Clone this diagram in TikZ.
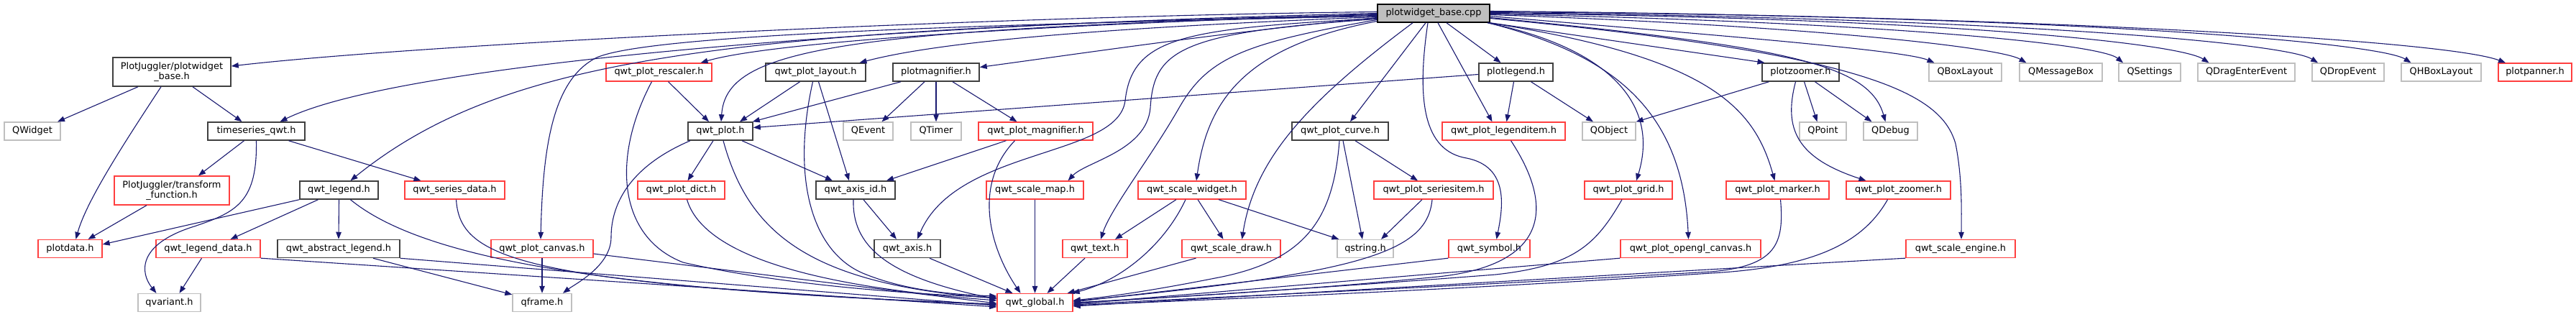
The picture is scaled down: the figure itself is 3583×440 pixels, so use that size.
\documentclass[tikz,border=0pt]{standalone}
\usepackage{fontspec}
\usetikzlibrary{arrows.meta}
\newfontfamily\dvs{DejaVu Sans}
\newcommand\dgfont{\dvs\fontsize{12.9}{14}\selectfont}
\definecolor{edgec}{HTML}{191970}
\definecolor{redc}{HTML}{FF3F3F}
\definecolor{grayc}{HTML}{BFBFBF}
\definecolor{darkc}{HTML}{404040}
\tikzset{
  boxbase/.style={rectangle, inner sep=0pt, font=\dgfont},
  oneln/.style={minimum height=25pt, text height=9.5pt, text depth=2.6pt},
  twoln/.style={minimum height=40pt, align=center},
  blk/.style={boxbase, draw=darkc, line width=1.5pt},
  rd/.style={boxbase, draw=redc, line width=1.3pt},
  gr/.style={boxbase, draw=grayc, line width=1.3pt},
  nb/.style={blk, oneln},
  nr/.style={rd, oneln},
  ng/.style={gr, oneln},
  edg/.style={draw=edgec, line width=1.1pt, -{Triangle[length=10pt,width=7.5pt]}}
}
\begin{document}
\begin{tikzpicture}[x=1pt,y=-1pt]
\useasboundingbox (0,0) rectangle (3583,440);
% ---- nodes ----
\node[nb, fill=grayc, draw=black, minimum width=156pt] (root) at (1994,18.5) {plotwidget\_base.cpp};
\node[blk, twoln, minimum width=164pt] (pwb) at (239,100) {PlotJuggler/plotwidget\\\_base.h};
\node[ng, minimum width=78pt] (qwidget) at (45,182.5) {QWidget};
\node[nb, minimum width=135pt] (tsq) at (356.5,182.5) {timeseries\_qwt.h};
\node[rd, twoln, minimum width=160pt] (tf) at (239,265) {PlotJuggler/transform\\\_function.h};
\node[nb, minimum width=109pt] (qlegend) at (471.5,264.5) {qwt\_legend.h};
\node[nr, minimum width=139pt] (qsd) at (632.5,264.5) {qwt\_series\_data.h};
\node[nr, minimum width=89pt] (plotdata) at (97.5,346) {plotdata.h};
\node[nr, minimum width=145pt] (qld) at (289.5,346) {qwt\_legend\_data.h};
\node[nb, minimum width=170pt] (qal) at (471,346) {qwt\_abstract\_legend.h};
\node[nr, minimum width=142pt] (qpc) at (754,346) {qwt\_plot\_canvas.h};
\node[ng, minimum width=87pt] (qvariant) at (235.5,421) {qvariant.h};
\node[ng, minimum width=82pt] (qframe) at (754,421) {qframe.h};
\node[nr, minimum width=147pt] (qpr) at (916.5,100.5) {qwt\_plot\_rescaler.h};
\node[nb, minimum width=139pt] (qpl) at (1134.5,100.5) {qwt\_plot\_layout.h};
\node[nb, minimum width=120pt] (pmag) at (1302,100.5) {plotmagnifier.h};
\node[nb, minimum width=90pt] (qplot) at (1002,182.5) {qwt\_plot.h};
\node[ng, minimum width=69pt] (qevent) at (1207.5,182.5) {QEvent};
\node[ng, minimum width=70pt] (qtimer) at (1302,182.5) {QTimer};
\node[nr, minimum width=159pt] (qpm) at (1440.5,182.5) {qwt\_plot\_magnifier.h};
\node[nr, minimum width=121pt] (qpd) at (947.5,264.5) {qwt\_plot\_dict.h};
\node[nb, minimum width=110pt] (qaid) at (1190,264.5) {qwt\_axis\_id.h};
\node[nr, minimum width=135pt] (qsm) at (1439.5,264.5) {qwt\_scale\_map.h};
\node[nr, minimum width=150pt] (qsw) at (1658,264.5) {qwt\_scale\_widget.h};
\node[nb, minimum width=92pt] (qaxis) at (1262,346) {qwt\_axis.h};
\node[nr, minimum width=90pt] (qtext) at (1523,346) {qwt\_text.h};
\node[nr, minimum width=137pt] (qsdraw) at (1712.5,346) {qwt\_scale\_draw.h};
\node[nr, minimum width=105pt] (qglobal) at (1439.5,421) {qwt\_global.h};
\node[nb, minimum width=103pt] (plegend) at (2108.5,100.5) {plotlegend.h};
\node[nb, minimum width=107pt] (pzoom) at (2504.5,100.5) {plotzoomer.h};
\node[nb, minimum width=134pt] (qpcurve) at (1864,182.5) {qwt\_plot\_curve.h};
\node[nr, minimum width=171pt] (qpli) at (2091.5,182.5) {qwt\_plot\_legenditem.h};
\node[ng, minimum width=74pt] (qobject) at (2238,182.5) {QObject};
\node[ng, minimum width=65pt] (qpoint) at (2535.5,182.5) {QPoint};
\node[ng, minimum width=75pt] (qdebug) at (2629.5,182.5) {QDebug};
\node[nr, minimum width=166pt] (qpsi) at (1994,264.5) {qwt\_plot\_seriesitem.h};
\node[nr, minimum width=122pt] (qpg) at (2265,264.5) {qwt\_plot\_grid.h};
\node[nr, minimum width=143pt] (qpmk) at (2472.5,264.5) {qwt\_plot\_marker.h};
\node[nr, minimum width=145pt] (qpz) at (2640.5,264.5) {qwt\_plot\_zoomer.h};
\node[ng, minimum width=78pt] (qstring) at (1899,346) {qstring.h};
\node[nr, minimum width=113pt] (qsym) at (2071.5,346) {qwt\_symbol.h};
\node[nr, minimum width=195pt] (qpoc) at (2351.5,346) {qwt\_plot\_opengl\_canvas.h};
\node[nr, minimum width=152pt] (qse) at (2727,346) {qwt\_scale\_engine.h};
\node[ng, minimum width=101pt] (qbox) at (2733.5,100.5) {QBoxLayout};
\node[ng, minimum width=115pt] (qmsg) at (2866.5,100.5) {QMessageBox};
\node[ng, minimum width=86pt] (qset) at (2990,100.5) {QSettings};
\node[ng, minimum width=135pt] (qdrag) at (3124.5,100.5) {QDragEnterEvent};
\node[ng, minimum width=100pt] (qdrop) at (3266,100.5) {QDropEvent};
\node[ng, minimum width=111pt] (qhbox) at (3395.5,100.5) {QHBoxLayout};
\node[nr, minimum width=102pt] (ppan) at (3526,100.5) {plotpanner.h};
% ---- edges from root (left) ----
\draw[edg] ([yshift=2pt]root.west) .. controls (1400,22) and (600,60) .. ([yshift=8pt]pwb.east);
\draw[edg] ([yshift=0pt]root.west) .. controls (1200,35) and (550,90) .. ([xshift=33pt]tsq.north);
\draw[edg] ([yshift=-2pt]root.west) .. controls (1000,40) and (700,80) .. ([xshift=16pt]qlegend.north);
\draw[edg] ([yshift=-4pt]root.west) .. controls (1300,35) and (900,50) .. (830,80) .. controls (770,110) and (755,200) .. ([xshift=-2pt]qpc.north);
\draw[edg] ([yshift=-1pt]root.west) .. controls (1300,40) and (1050,65) .. ([xshift=58pt]qpr.north);
\draw[edg] ([yshift=-3pt]root.west) .. controls (1150,40) and (1010,70) .. ([xshift=1pt]qplot.north);
\draw[edg] ([yshift=-5pt]root.west) .. controls (1500,40) and (1300,60) .. ([xshift=61pt]qpl.north);
\draw[edg] ([yshift=-6pt]root.west) .. controls (1700,45) and (1500,75) .. ([yshift=7pt]pmag.east);
\draw[edg] ([yshift=-7pt]root.west) .. controls (1650,40) and (1575,50) .. (1565,140) .. controls (1555,220) and (1330,205) .. ([xshift=14pt]qaxis.north);
\draw[edg] ([yshift=-8pt]root.west) .. controls (1640,45) and (1605,70) .. (1600,150) .. controls (1595,210) and (1510,225) .. ([xshift=46pt]qsm.north);
\draw[edg] ([yshift=-9pt]root.west) .. controls (1730,60) and (1680,80) .. (1640,150) .. controls (1600,220) and (1545,290) .. ([xshift=8pt]qtext.north);
\draw[edg] ([yshift=-11pt]root.west) .. controls (1730,65) and (1680,140) .. ([xshift=6pt]qsw.north);
\draw[edg] ([xshift=-29pt]root.south) .. controls (1820,140) and (1745,220) .. ([xshift=15pt]qsdraw.north);
% ---- edges from root (bottom) ----
\draw[edg] ([xshift=-11pt]root.south) -- ([xshift=14pt]qpcurve.north);
\draw[edg] ([xshift=-8pt]root.south) .. controls (1970,140) and (1980,210) .. (2040,220) .. controls (2100,232) and (2090,290) .. ([xshift=10pt]qsym.north);
\draw[edg] ([xshift=6pt]root.south) -- ([xshift=-16pt]qpli.north);
\draw[edg] ([xshift=18pt]root.south) -- ([xshift=-21pt]plegend.north);
\draw[edg] ([xshift=-4pt]root.south east) .. controls (2230,65) and (2310,140) .. ([xshift=11pt]qpg.north);
\draw[edg] ([xshift=-3pt]root.south east) .. controls (2240,75) and (2340,150) .. ([xshift=-3pt]qpoc.north);
\draw[edg] ([xshift=-2pt]root.south east) .. controls (2380,80) and (2440,150) .. ([xshift=-4pt]qpmk.north);
\draw[edg] (root.south east) -- ([xshift=-50pt]pzoom.north);
% ---- edges from root (right) ----
\draw[edg] ([yshift=-6pt]root.east) .. controls (2490,65) and (2600,90) .. ([xshift=-7pt]qdebug.north);
\draw[edg] ([yshift=-7pt]root.east) .. controls (2600,75) and (2700,130) .. (2720,200) .. controls (2730,250) and (2728,300) .. ([xshift=1pt]qse.north);
\draw[edg] ([yshift=-4pt]root.east) .. controls (2400,50) and (2650,70) .. ([xshift=-43pt]qbox.north);
\draw[edg] ([yshift=-2pt]root.east) .. controls (2500,35) and (2780,65) .. ([xshift=-48pt]qmsg.north);
\draw[edg] ([yshift=-1pt]root.east) .. controls (2600,30) and (2920,60) .. ([xshift=-37pt]qset.north);
\draw[edg] ([yshift=0pt]root.east) .. controls (2700,25) and (3030,60) .. ([xshift=-52pt]qdrag.north);
\draw[edg] ([yshift=1pt]root.east) .. controls (2800,25) and (3180,60) .. ([xshift=-42pt]qdrop.north);
\draw[edg] ([yshift=2pt]root.east) .. controls (2900,22) and (3310,60) .. ([xshift=-42pt]qhbox.north);
\draw[edg] ([yshift=3pt]root.east) .. controls (2800,22) and (3400,55) .. ([xshift=-41pt]ppan.north);
% ---- left part ----
\draw[edg] ([xshift=-47pt]pwb.south) -- ([xshift=35pt]qwidget.north);
\draw[edg] ([xshift=-15pt]pwb.south) .. controls (172,200) and (120,280) .. ([xshift=8pt]plotdata.north);
\draw[edg] ([xshift=29pt]pwb.south) -- ([xshift=-20pt]tsq.north);
\draw[edg] ([xshift=-17pt]tsq.south) -- ([xshift=37pt]tf.north);
\draw[edg] ([xshift=45pt]tsq.south) -- ([xshift=-47pt]qsd.north);
\draw[edg] (tsq.south) .. controls (358,280) and (330,295) .. (270,315) .. controls (190,340) and (195,380) .. ([xshift=-18pt]qvariant.north);
\draw[edg] ([xshift=-35pt]tf.south) -- ([xshift=25pt]plotdata.north);
\draw[edg] (qlegend.south west) -- ([yshift=6pt]plotdata.east);
\draw[edg] ([xshift=-29pt]qlegend.south) -- ([xshift=31pt]qld.north);
\draw[edg] (qlegend.south) -- (qal.north);
\draw[edg] ([xshift=16pt]qlegend.south) .. controls (600,370) and (900,405) .. ([yshift=-2pt]qglobal.west);
\draw[edg] ([xshift=-9pt]qld.south) -- ([xshift=14pt]qvariant.north);
\draw[edg] (qld.south east) -- ([yshift=-6pt]qglobal.west);
\draw[edg] ([xshift=48pt]qal.south) -- ([yshift=-2pt]qframe.north west);
\draw[edg] (qal.south east) -- ([yshift=-4pt]qglobal.west);
\draw[edg] ([xshift=2pt]qsd.south) .. controls (640,360) and (720,395) .. ([yshift=-3pt]qglobal.west);
\draw[edg] (qpc.south) -- (qframe.north);
\draw[edg] ([yshift=-7pt]qpc.east) -- ([yshift=-1pt]qglobal.west);
% ---- qwt_plot area ----
\draw[edg] ([xshift=-42pt]qplot.south) .. controls (880,230) and (850,280) .. (850,330) .. controls (850,370) and (800,395) .. ([xshift=29pt]qframe.north);
\draw[edg] ([xshift=-10pt]qplot.south) -- ([xshift=9pt]qpd.north);
\draw[edg] ([xshift=30pt]qplot.south) -- ([xshift=-32pt]qaid.north);
\draw[edg] ([xshift=4pt]qplot.south) .. controls (1040,320) and (1120,395) .. ([yshift=6pt]qglobal.west);
\draw[edg] ([xshift=8pt]qpd.south) .. controls (980,360) and (1150,400) .. ([yshift=3pt]qglobal.west);
\draw[edg] ([xshift=-22pt]qpl.south) -- ([xshift=27pt]qplot.north);
\draw[edg] ([xshift=4pt]qpl.south) -- ([xshift=-9pt]qaid.north);
\draw[edg] ([xshift=-4pt]qpl.south) .. controls (1100,250) and (1130,350) .. (1200,380) .. controls (1260,405) and (1330,410) .. ([yshift=9pt]qglobal.west);
\draw[edg] ([xshift=-49pt]pmag.south) -- ([xshift=-1pt]qplot.north east);
\draw[edg] ([xshift=-16pt]pmag.south) -- ([xshift=19pt]qevent.north);
\draw[edg] (pmag.south) -- (qtimer.north);
\draw[edg] ([xshift=23pt]pmag.south) -- ([xshift=-26pt]qpm.north);
\draw[edg] ([xshift=-41pt]qpm.south) -- ([xshift=43pt]qaid.north);
\draw[edg] ([xshift=-29pt]qpm.south) .. controls (1350,260) and (1380,350) .. ([xshift=-20pt]qglobal.north);
\draw[edg] ([xshift=13pt]qpr.south) -- ([xshift=-16pt]qplot.north);
\draw[edg] ([xshift=-10pt]qpr.south) .. controls (850,220) and (860,330) .. (950,365) .. controls (1100,400) and (1300,410) .. ([yshift=7pt]qglobal.west);
\draw[edg] ([xshift=11pt]qaid.south) -- ([xshift=-15pt]qaxis.north);
\draw[edg] ([xshift=-3pt]qaid.south) .. controls (1185,340) and (1230,385) .. ([yshift=5pt]qglobal.west);
\draw[edg] ([xshift=31pt]qaxis.south) -- ([xshift=-31pt]qglobal.north);
\draw[edg] (qsm.south) -- (qglobal.north);
% ---- scale widget area ----
\draw[edg] ([xshift=-22pt]qsw.south) -- ([xshift=28pt]qtext.north);
\draw[edg] ([xshift=-9pt]qsw.south) .. controls (1620,340) and (1560,390) .. ([xshift=-1pt]qglobal.north east);
\draw[edg] ([xshift=8pt]qsw.south) -- ([xshift=-11pt]qsdraw.north);
\draw[edg] ([xshift=37pt]qsw.south) -- ([xshift=3pt]qstring.north west);
\draw[edg] ([xshift=-14pt]qtext.south) -- ([xshift=17pt]qglobal.north);
\draw[edg] ([xshift=-49pt]qsdraw.south) -- ([xshift=-8pt]qglobal.north east);
% ---- plot curve area ----
\draw[edg] ([xshift=21pt]qpcurve.south) -- ([xshift=-22pt]qpsi.north);
\draw[edg] ([xshift=4pt]qpcurve.south) -- ([xshift=-4pt]qstring.north);
\draw[edg] ([xshift=-1pt]qpcurve.south) .. controls (1855,300) and (1820,360) .. (1700,385) .. controls (1600,405) and (1540,413) .. ([yshift=3pt]qglobal.east);
\draw[edg] ([xshift=-16pt]qpsi.south) -- ([xshift=22pt]qstring.north);
\draw[edg] ([xshift=-2pt]qpsi.south) .. controls (1985,350) and (1900,380) .. ([yshift=2pt]qglobal.east);
\draw[edg] (qsym.south west) -- ([yshift=1pt]qglobal.east);
\draw[edg] ([xshift=10pt]qpli.south) .. controls (2170,300) and (2140,370) .. (2000,385) .. controls (1800,405) and (1600,415) .. ([yshift=0pt]qglobal.east);
% ---- plotlegend / plotzoomer ----
\draw[edg] ([xshift=-3pt]plegend.south) -- ([xshift=4pt]qpli.north);
\draw[edg] ([xshift=21pt]plegend.south) -- ([xshift=-22pt]qobject.north);
\draw[edg] ([yshift=-3pt]plegend.west) -- ([yshift=5pt]qplot.east);
\draw[edg] ([xshift=-44pt]pzoom.south) -- (qobject.north east);
\draw[edg] ([xshift=5pt]pzoom.south) -- ([xshift=-8pt]qpoint.north);
\draw[edg] ([xshift=20pt]pzoom.south) -- ([xshift=-26pt]qdebug.north);
\draw[edg] ([xshift=-7pt]pzoom.south) .. controls (2480,180) and (2500,220) .. ([xshift=-45pt]qpz.north);
% ---- right part to qwt_global ----
\draw[edg] ([xshift=-9pt]qpg.south) .. controls (2220,340) and (2190,370) .. (2080,382) .. controls (1850,400) and (1600,415) .. ([yshift=-1pt]qglobal.east);
\draw[edg] (qpoc.south west) -- ([yshift=-2pt]qglobal.east);
\draw[edg] ([xshift=4pt]qpmk.south) .. controls (2482,340) and (2470,370) .. (2380,378) .. controls (2000,400) and (1650,415) .. ([yshift=-3pt]qglobal.east);
\draw[edg] ([xshift=-15pt]qpz.south) .. controls (2590,340) and (2520,372) .. (2380,380) .. controls (2000,405) and (1650,418) .. ([yshift=-4pt]qglobal.east);
\draw[edg] (qse.south west) -- ([yshift=-5pt]qglobal.east);
\end{tikzpicture}
\end{document}
